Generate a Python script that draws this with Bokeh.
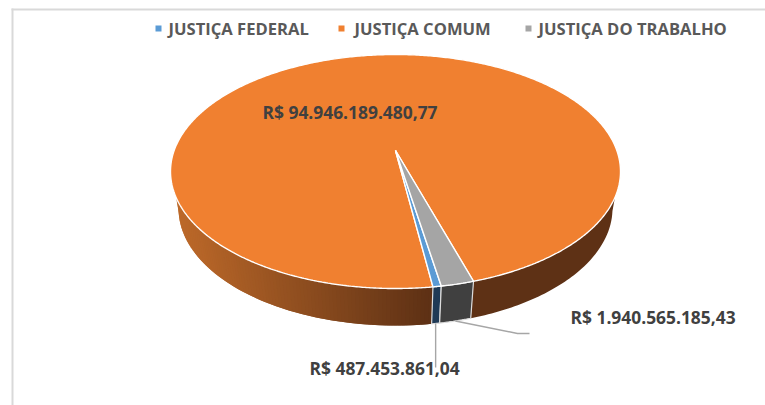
import numpy as np
from bokeh.plotting import figure
from bokeh.embed import file_html
from bokeh.resources import INLINE
from bokeh.models import Range1d
from bokeh.core.properties import value

categories = ["JUSTIÇA FEDERAL", "JUSTIÇA COMUM", "JUSTIÇA DO TRABALHO"]
values = [487453861.04, 94946189480.77, 1940565185.43]
labels = ["R$ 487.453.861,04", "R$ 94.946.189.480,77", "R$ 1.940.565.185,43"]
top_colors = ["#5b9bd5", "#f08030", "#a5a5a5"]
wall_colors = ["#1f3a56", None, "#404040"]

W, H = 765, 405
FONT = "Open Sans"
TXT = "#404040"
p = figure(width=W, height=H, output_backend="svg", toolbar_location=None,
           x_range=Range1d(0, W), y_range=Range1d(H, 0),
           min_border=0, outline_line_color=None)
p.axis.visible = False
p.grid.visible = False
p.background_fill_color = "white"
p.border_fill_color = "white"

# top ellipse, bottom ellipse, apex of the slices (perspective view)
cx, cy, rx, ry = 395.0, 171.0, 225.0, 117.0
bcy, brx, bry = 208.0, 217.0, 117.0
apex_y = 150.0
d = (apex_y - cy) / ry
# angle measured clockwise on screen from straight down, in degrees
first_angle = -9.8
vals = np.array(values)
true_edges = first_angle + np.concatenate([[0], np.cumsum(vals / vals.sum())]) * 360.0

def persp(a):
    """true pie angle -> angle on the drawn ellipse (projective view of the disc)"""
    r = np.radians(a)
    u, v = np.sin(r), np.cos(r)
    den = 1 + d * v
    return np.degrees(np.arctan2(u * np.sqrt(1 - d * d) / den, (v + d) / den))

edges = np.array([persp(true_edges[0]), persp(true_edges[1]),
                  persp(true_edges[2] - 360.0) + 360.0, persp(true_edges[3] - 360.0) + 360.0])

def pt(a):
    r = np.radians(a)
    return cx - rx * np.sin(r), cy + ry * np.cos(r)

def bpt(a):
    a = np.asarray(a, dtype=float)
    s = np.sign(a)
    m = np.abs(a)
    b = np.where(m > 60.0, 60.0 + (m - 60.0) * (30.0 / 18.0), m) * s
    r = np.radians(b)
    return cx - brx * np.sin(r), bcy + bry * np.cos(r)

def shade(x):
    t = np.clip((430.0 - x) / (430.0 - 175.0), 0, 1)
    c0 = np.array([0x5e, 0x31, 0x15]); c1 = np.array([0xbe, 0x6a, 0x2a])
    c = c0 + (c1 - c0) * t
    return "#%02x%02x%02x" % tuple(int(v) for v in c)

# side wall of the large slice, strip by strip, each one lying under the next
WALL_END = 78.0
strip = np.arange(edges[1], WALL_END + 0.001, 1.0)
for s0, s1 in list(zip(strip[:-1], strip[1:]))[::-1]:
    s_lo = max(edges[1], s0 - 1.0)
    xa, ya = pt(s_lo); xb, yb = pt(s1)
    xc, yc = bpt(s1); xd, yd = bpt(s_lo)
    mx, _ = pt((s0 + s1) / 2)
    p.patch([xa, xb, xc, xd], [ya, yb, yc, yd], fill_color=shade(mx), line_color=None)
right = np.arange(edges[2] - 360.0, -WALL_END - 0.001, -1.0)
xs, ys = pt(right); xs2, ys2 = bpt(right)
p.patch(list(xs) + list(xs2[::-1]), list(ys) + list(ys2[::-1]), fill_color="#5e3115", line_color=None)

# walls of the two narrow slices
for i in (0, 2):
    lo, hi = edges[i], edges[i + 1]
    if i == 2:
        lo, hi = hi - 360.0, lo - 360.0
    aa = np.linspace(lo, hi, 8)
    x, y = pt(aa)
    x2, y2 = bpt(aa)
    p.patch(list(x) + list(x2[::-1]), list(y) + list(y2[::-1]), fill_color=wall_colors[i],
            line_color="#dcdcdc", line_width=1.2)

# top faces
for i in (1, 0, 2):
    aa = np.linspace(edges[i], edges[i + 1], max(8, int(edges[i + 1] - edges[i]) * 2))
    x, y = pt(aa)
    p.patch([cx] + list(x), [apex_y] + list(y), fill_color=top_colors[i],
            line_color="white", line_width=1.4)

# leader lines
xb, yb = bpt(np.array((edges[0] + edges[1]) / 2))
p.line([xb, xb], [yb, 367], line_color="#a6a6a6", line_width=1.4)
xg, yg = bpt(np.array((edges[2] + edges[3]) / 2 - 360.0))
p.line([xg, 517, 529], [yg, 333, 333], line_color="#a6a6a6", line_width=1.4)

# data labels
for x, y, t in ((262, 111, labels[1]), (570, 316, labels[2]), (309, 367, labels[0])):
    p.text([x], [y], text=[t], text_font=value(FONT), text_font_style="bold",
           text_font_size="17.4px", text_color=TXT, text_baseline="middle")

# legend
lx = [158, 341, 528]
tx = [168, 354, 538]
for i in range(3):
    p.scatter([lx[i]], [28], marker="square", size=6, fill_color=top_colors[i], line_color=None)
    p.text([tx[i]], [28], text=[categories[i]], text_font=value(FONT), text_font_style="bold",
           text_font_size="16.6px", text_color="#595959", text_baseline="middle")

# chart frame
p.line([11, 765], [9, 9], line_color="#d9d9d9", line_width=2)
p.line([12, 12], [8, 405], line_color="#d9d9d9", line_width=2)

open("out.html", "w").write(file_html(p, INLINE))
